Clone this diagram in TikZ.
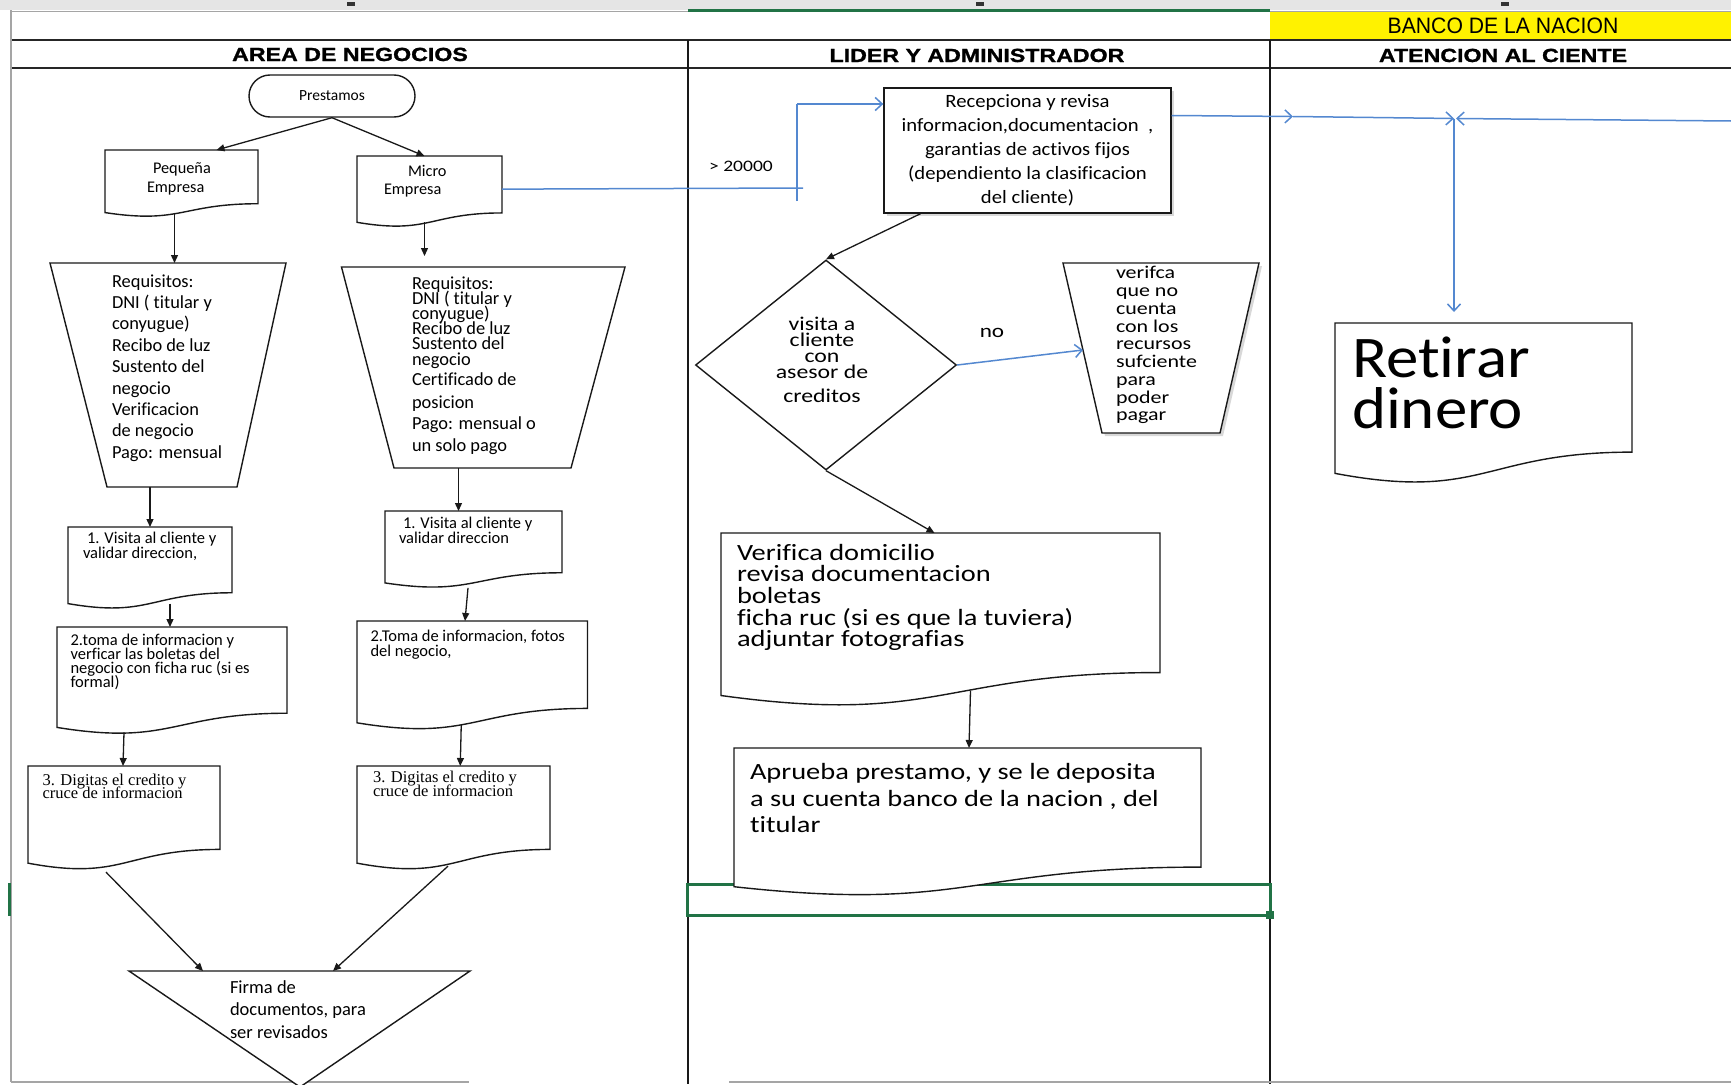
\documentclass[tikz,border=0pt]{standalone}
\usepackage{fontspec}
\setmainfont{Carlito}[Ligatures=NoCommon]
\newfontfamily\calW[FakeStretch=1.22,Ligatures=NoCommon]{Carlito}
\newfontfamily\calM[FakeStretch=1.1,Ligatures=NoCommon]{Carlito}
\newfontfamily\hdrfont[FakeStretch=1.22,BoldFeatures={FakeBold=1.2}]{Liberation Sans}
\newfontfamily\bancofont[FakeStretch=0.95]{Liberation Sans}
\newfontfamily\serifT{Liberation Serif}
\usetikzlibrary{arrows.meta,shapes.misc,shapes.geometric,shadows,calc}
\definecolor{flowblue}{RGB}{84,136,208}
\definecolor{xlgreen}{RGB}{33,115,70}
\definecolor{gridgrey}{RGB}{165,165,165}
\newcommand\fsz[2]{\fontsize{#1}{#2}\selectfont\lineskiplimit=-100pt\relax}
\newcommand\docshape[6]{%
  \pgfmathsetmacro\dsA{#3+0.802*#5}%
  \pgfmathsetmacro\dsB{#3+1.1075*#5}%
  \pgfmathsetmacro\dsC{#3+0.934*#5}%
  \pgfmathsetmacro\dsM{(#2+#4)/2}%
  \pgfmathsetmacro\dsH{0.934*#5}%
  \pgfmathsetmacro\dsW{#4-#2}%
  \path[shapeline,#6] (#2,#3) -- (#4,#3) -- (#4,\dsA) .. controls (\dsM,\dsA) and (\dsM,\dsB) .. (#2,\dsC) -- cycle;%
  \node[hiddenbox, minimum width=\dsW pt, minimum height=\dsH pt, anchor=north west] (#1) at (#2,#3) {};%
}
\newcommand\trapshape[8]{%
  \path[shapeline,#8] (#2,#4) -- (#3,#4) -- (#6,#7) -- (#5,#7) -- cycle;%
  \pgfmathsetmacro\dsW{#3-#2}\pgfmathsetmacro\dsH{#7-#4}%
  \node[hiddenbox, minimum width=\dsW pt, minimum height=\dsH pt, anchor=north west] (#1) at (#2,#4) {};%
}
\tikzset{
 shapeline/.style={draw=black!90, line width=1.4pt, fill=white},
 hiddenbox/.style={rectangle, draw=none, fill=none, inner sep=0pt, outer sep=0pt},
 txt/.style={inner sep=0pt, outer sep=0pt, align=left, anchor=north west, text=black},
 arr/.style={draw=black!90, line width=1.3pt, -{Triangle[length=8pt,width=7pt]}},
 barr/.style={draw=flowblue, line width=1.5pt, -{Straight Barb[length=7pt,width=13pt]}},
 bline/.style={draw=flowblue, line width=1.5pt},
 hdr/.style={inner sep=0pt, anchor=base, font=\hdrfont\bfseries\fontsize{19}{22}\selectfont},
 softshadow/.style={drop shadow={shadow xshift=3pt,shadow yshift=-3pt,opacity=0.3}},
}
\begin{document}
\begin{tikzpicture}[x=1pt,y=-1pt]
\path[use as bounding box] (0,0) rectangle (1731,1084);
% ---- sheet background ----
\fill[white] (0,0) rectangle (1731,1084);
\fill[black!10] (0,0) rectangle (1731,10);
\fill[black!80] (347,2) rectangle (355,6);
\fill[black!80] (976,2) rectangle (984,6);
\fill[black!80] (1501,2) rectangle (1509,6);
\draw[gridgrey, line width=1pt] (11,11) -- (1731,11);
\fill[yellow] (1270,12) rectangle (1731,39);
\draw[xlgreen, line width=3pt] (688,10) -- (1270,10);
\draw[black!85, line width=2pt] (11,40) -- (1731,40);
\draw[black!85, line width=2pt] (11,68) -- (1731,68);
\draw[black!90, line width=1.3pt] (688,40) -- (688,1084);
\draw[black!90, line width=1.3pt] (1270,40) -- (1270,1084);
\draw[gridgrey, line width=1.2pt] (11,10) -- (11,1082);
\draw[gridgrey, line width=1.2pt] (11,1082) -- (469,1082);
\draw[gridgrey, line width=1.2pt] (729,1082) -- (1731,1082);
\fill[xlgreen] (8,883) rectangle (11,916);
\draw[xlgreen, line width=3pt] (687,884.5) rectangle (1270,915.5);
\fill[xlgreen] (1266,911) rectangle (1274,919);
% ---- headers ----
\node[hdr] (hA) at (350,61) {AREA DE NEGOCIOS};
\node[hdr] (hL) at (977,62) {LIDER Y ADMINISTRADOR};
\node[hdr] (hC) at (1503,62) {ATENCION AL CIENTE};
\node[inner sep=0pt, anchor=base, font=\bancofont\fontsize{22.3}{24}\selectfont] (hB) at (1503,33) {BANCO DE LA NACION};
% ---- AREA DE NEGOCIOS ----
\node[rounded rectangle, draw=black!90, line width=1.4pt, fill=white, minimum width=166pt, minimum height=42pt, inner sep=0pt, font=\fsz{15.5}{18}] (prest) at (332,96) {Prestamos};
\docshape{peq}{105}{150}{258}{67}{}
\node[txt, font=\fsz{16.3}{19}] (tpeq) at (147,162.5) {\hspace*{6pt}Pequeña\\Empresa};
\docshape{micro}{357}{156}{502}{71}{}
\node[txt, font=\fsz{16.3}{18}] (tmicro) at (384,165.5) {\hspace*{24pt}Micro\\Empresa};
\trapshape{T1}{50}{286}{263}{107}{237}{487}{}
\node[txt, font=\fsz{18.4}{21.4}] (tT1) at (112,274.5) {Requisitos:\\DNI ( titular y\\conyugue)\\Recibo de luz\\Sustento del\\negocio\\Verificacion\\de negocio\\Pago: mensual};
\trapshape{T2}{341.5}{625}{267}{394}{571}{468}{}
\node[txt, font=\fsz{18.4}{15.2}] (tT2) at (412,276.5) {Requisitos:\\DNI ( titular y\\conyugue)\\Recibo de luz\\Sustento del\\negocio\\[5.5pt]Certificado de\\[7.5pt]posicion\\[5.5pt]Pago: mensual o\\[7.5pt]un solo pago};
\docshape{L1}{68}{527}{232}{82}{}
\node[txt, font=\fsz{16.5}{14.8}] (tL1) at (83,532) {\hspace*{4pt}1. Visita al cliente y\\validar direccion,};
\docshape{R1}{385}{511}{562}{77}{}
\node[txt, font=\fsz{16.5}{15.2}] (tR1) at (399,517) {\hspace*{4pt}1. Visita al cliente y\\validar direccion};
\docshape{L2}{57}{627}{287}{107.5}{}
\node[txt, font=\fsz{16.5}{14}] (tL2) at (70.5,634) {2.toma de informacion y\\verficar las boletas del\\negocio con ficha ruc (si es\\formal)};
\docshape{R2}{357}{621}{587.5}{109}{}
\node[txt, font=\fsz{16.5}{14.6}] (tR2) at (370.5,630) {2.Toma de informacion, fotos\\del negocio,};
\docshape{L3}{28}{766}{220}{104}{}
\node[txt, font=\serifT\fsz{16.5}{13.5}] (tL3) at (42.5,774) {3. Digitas el credito y\\cruce de informacion};
\docshape{R3}{357}{766}{550}{104}{}
\node[txt, font=\serifT\fsz{16.5}{14.5}] (tR3) at (373,771) {3. Digitas el credito y\\cruce de informacion};
\path[shapeline] (129,971) -- (470,971) -- (300,1087) -- cycle;
\node[hiddenbox, minimum width=341pt, minimum height=111pt, anchor=north west] (firma) at (129,971) {};
\node[txt, font=\fsz{18.5}{22.5}] (tfirma) at (230,980.5) {Firma de\\documentos, para\\ser revisados};
% connectors area de negocios
\draw[arr] (prest.south) -- ([xshift=35pt]peq.north);
\draw[arr] (prest.south) -- ([xshift=-5pt]micro.north);
\draw[arr] ([xshift=-7pt]peq.south) -- ([xshift=-7pt]peq.south |- T1.north);
\draw[arr, shorten >=11pt] ([xshift=-5pt]micro.south) -- ([xshift=-5pt]micro.south |- T2.north);
\draw[arr] (L1.north |- T1.south) -- (L1.north);
\draw[arr] ([xshift=-15pt]R1.north |- T2.south) -- ([xshift=-15pt]R1.north);
\draw[arr] ([xshift=20pt]L1.south) -- ([xshift=20pt]L1.south |- L2.north);
\draw[arr] ([xshift=-5.5pt,yshift=-5pt]R1.south) -- ([xshift=-8.5pt]R1.south |- R2.north);
\draw[arr] ([xshift=-48pt,yshift=-5pt]L2.south) -- ([xshift=-49pt]L2.south |- L3.north);
\draw[arr] ([xshift=-11pt,yshift=-2pt]R2.south) -- ([xshift=-12pt]R2.south |- R3.north);
\draw[arr] ([xshift=-18pt,yshift=-9pt]L3.south) -- ([xshift=-96.5pt]firma.north);
\draw[arr] ([xshift=-5.5pt,yshift=-3pt]R3.south) -- ([xshift=33.5pt]firma.north);
% ---- LIDER Y ADMINISTRADOR ----
\node[draw=black!90, line width=1.4pt, fill=white, softshadow, minimum width=287pt, minimum height=125pt, inner sep=0pt, align=center, font=\calM\fsz{18.8}{24.1}] (recep) at (1027.5,150.5) {Recepciona y revisa\\informacion,documentacion~~,\\garantias de activos fijos\\(dependiento la clasificacion\\del cliente)};
\coordinate (g1) at (803,188);
\coordinate (jb) at (797,201);
\coordinate (jt) at (797,104);
\draw[bline] (micro.east) -- (g1);
\draw[bline] (jb) -- (jt);
\draw[barr] (jt) -- (recep.west |- jt);
\node[inner sep=0pt, anchor=west, font=\calW\fsz{16}{18}] (t20000) at (709,166) {> 20000};
\node[diamond, draw=black!90, line width=1.4pt, fill=white, minimum width=261pt, minimum height=210pt, inner sep=0pt, aspect=1.24] (dia) at (826,365) {};
\node[txt, anchor=north, align=center, font=\calW\fsz{19.5}{16}] (tdia) at (822,317) {visita a\\cliente\\con\\asesor de\\[8pt]creditos};
\trapshape{T3}{1063}{1259}{263}{1102}{1220}{433}{softshadow}
\node[txt, font=\calW\fsz{18}{17.75}] (tT3) at (1116,266.5) {verifca\\que no\\cuenta\\con los\\recursos\\sufciente\\para\\poder\\pagar};
\coordinate (t3in) at (1083,350);
\draw[barr] (dia.east) -- (t3in);
\node[inner sep=0pt, font=\calW\fsz{19}{20}] (tno) at (992,333) {no};
\draw[arr] ([xshift=-107pt]recep.south) -- (dia.north);
\docshape{verif}{721}{533}{1160}{174}{}
\node[txt, font=\calW\fsz{23.3}{21.7}] (tverif) at (737,544) {Verifica domicilio\\revisa documentacion\\boletas\\ficha ruc (si es que la tuviera)\\adjuntar fotografias};
\draw[arr] (dia.south) -- ([xshift=-6pt]verif.north);
\docshape{aprueba}{734}{748}{1201}{148.5}{}
\node[txt, font=\calW\fsz{23.3}{26.5}] (taprueba) at (750,763.5) {Aprueba prestamo, y se le deposita\\a su cuenta banco de la nacion , del\\titular};
\draw[arr] ([xshift=30pt,yshift=5pt]verif.south) -- ([xshift=1.5pt]aprueba.north);
% ---- ATENCION AL CIENTE ----
\docshape{retirar}{1335}{323}{1632}{161}{}
\node[txt, font=\calM\fsz{59}{51}] (tretirar) at (1352,337) {Retirar\\dinero};
\coordinate (m1) at (1293,116.5);
\coordinate (jx) at (1454,118.5);
\coordinate (redge) at (1731,121);
\draw[barr] ([yshift=35pt]recep.east) -- (m1);
\draw[barr] (m1) -- (jx);
\draw[barr] (redge) -- ([xshift=2pt]jx);
\draw[barr, shorten >=11pt] (jx) -- (retirar.north -| jx);
\end{tikzpicture}
\end{document}
